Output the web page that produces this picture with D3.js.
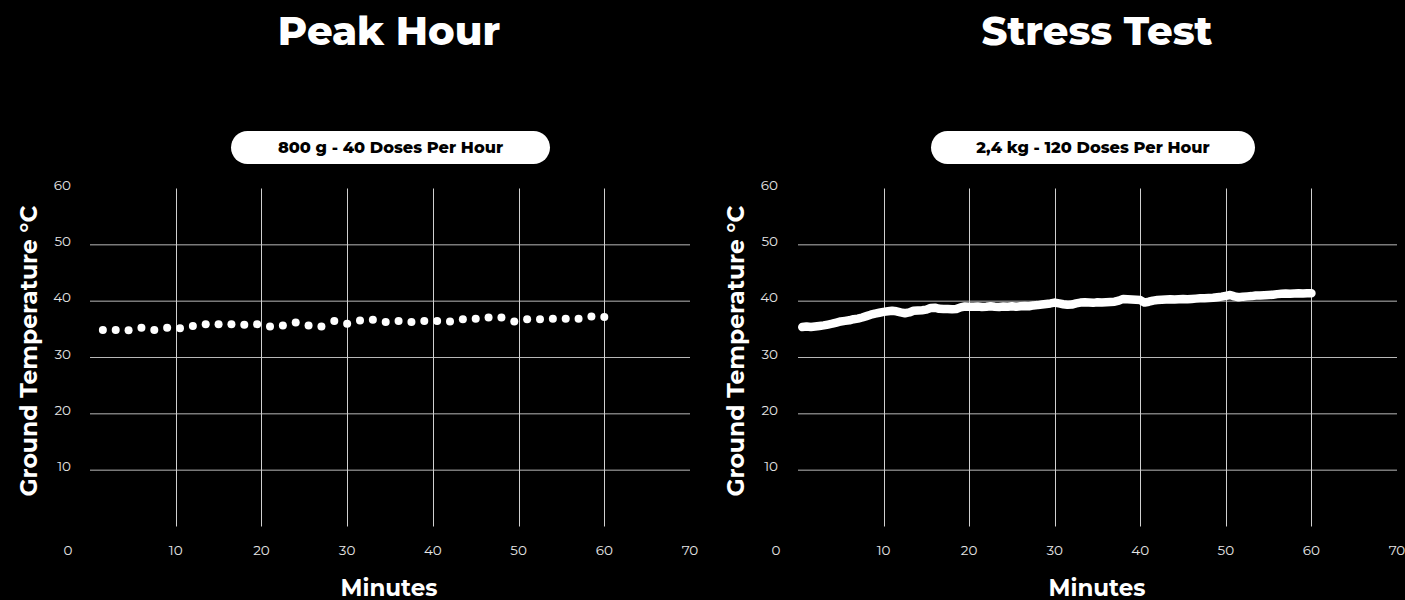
<!DOCTYPE html>
<html>
<head>
<meta charset="utf-8">
<script src="https://cdn.jsdelivr.net/npm/d3@7"></script>
<style>
  html, body { margin: 0; padding: 0; background: #000; }
  svg { display: block; }
</style>
</head>
<body>
<svg id="chart" width="1405" height="600"></svg>
<script>
// ---------- data ----------
const titles = ["Peak Hour", "Stress Test"];
const subtitles = ["800 g - 40 Doses Per Hour", "2,4 kg - 120 Doses Per Hour"];
const xTicks = [0, 10, 20, 30, 40, 50, 60, 70];
const yTicks = [10, 20, 30, 40, 50, 60];
const xLabel = "Minutes";
const yLabel = "Ground Temperature °C";

// Peak Hour: one dose every 1.5 minutes
const peakMinutes = [1.5,3,4.5,6,7.5,9,10.5,12,13.5,15,16.5,18,19.5,21,22.5,24,25.5,27,28.5,30,
  31.5,33,34.5,36,37.5,39,40.5,42,43.5,45,46.5,48,49.5,51,52.5,54,55.5,57,58.5,60];
const peakTemps = [34.9,34.9,34.85,35.3,34.9,35.3,35.2,35.6,35.9,35.9,35.9,35.8,35.9,35.5,35.7,36.2,35.7,35.5,36.5,36.0,
  36.55,36.7,36.3,36.5,36.3,36.5,36.5,36.4,36.8,36.9,37.1,37.1,36.4,36.8,36.8,36.9,36.9,36.9,37.3,37.2];

// Stress Test: one dose every 0.5 minutes
const stressMinutes = [0.5,1,1.5,2,2.5,3,3.5,4,4.5,5,5.5,6,6.5,7,7.5,8,8.5,9,9.5,10,
  10.5,11,11.5,12,12.5,13,13.5,14,14.5,15,15.5,16,16.5,17,17.5,18,18.5,19,19.5,20,
  20.5,21,21.5,22,22.5,23,23.5,24,24.5,25,25.5,26,26.5,27,27.5,28,28.5,29,29.5,30,
  30.5,31,31.5,32,32.5,33,33.5,34,34.5,35,35.5,36,36.5,37,37.5,38,38.5,39,39.5,40,
  40.5,41,41.5,42,42.5,43,43.5,44,44.5,45,45.5,46,46.5,47,47.5,48,48.5,49,49.5,50,
  50.5,51,51.5,52,52.5,53,53.5,54,54.5,55,55.5,56,56.5,57,57.5,58,58.5,59,59.5,60];
const stressTemps = [35.4,35.5,35.4,35.5,35.6,35.7,35.85,36.0,36.2,36.4,36.5,36.6,36.8,36.9,37.1,37.35,37.6,37.8,37.95,38.1,
  38.2,38.3,38.2,38.0,37.85,38.0,38.3,38.35,38.4,38.5,38.8,38.85,38.65,38.6,38.6,38.55,38.6,38.9,39.05,39.0,
  39.0,39.05,38.95,39.0,39.1,39.0,38.95,39.05,39.0,39.1,39.0,39.1,39.15,39.1,39.25,39.3,39.4,39.5,39.6,39.75,
  39.6,39.45,39.35,39.4,39.6,39.75,39.8,39.75,39.7,39.8,39.75,39.8,39.85,39.9,40.1,40.4,40.35,40.3,40.25,40.2,
  39.75,39.9,40.1,40.2,40.25,40.3,40.35,40.3,40.35,40.4,40.35,40.4,40.45,40.5,40.5,40.55,40.6,40.7,40.8,40.95,
  41.1,40.85,40.7,40.8,40.85,40.9,41.0,41.0,41.05,41.1,41.15,41.25,41.3,41.35,41.3,41.35,41.4,41.35,41.4,41.4];

// ---------- layout ----------
const svg = d3.select("#chart");
const panels = [
  { title: titles[0], sub: subtitles[0], xs: peakMinutes, ys: peakTemps, type: "dots",
    x0: 90, x1: 690, cx: 389, pillL: 231, pillR: 550, yLabX: 37, yTickX: 71 },
  { title: titles[1], sub: subtitles[1], xs: stressMinutes, ys: stressTemps, type: "line",
    x0: 798, x1: 1397, cx: 1097, pillL: 931, pillR: 1255, yLabX: 744, yTickX: 778 }
];
const yTop = 188.5, yBot = 526.5;
const fontMain = "Montserrat, Inter, 'Open Sans', sans-serif";

panels.forEach(p => {
  const x = d3.scaleLinear().domain([0, 70]).range([p.x0, p.x1]);
  const y = d3.scaleLinear().domain([0, 60]).range([yBot, yTop]);
  const g = svg.append("g");

  // title
  g.append("text").attr("x", p.cx).attr("y", 45)
    .attr("text-anchor", "middle").attr("fill", "#fff")
    .style("font-family", fontMain).style("font-weight", 800).style("font-size", "40px")
    .text(p.title);

  // pill
  g.append("rect").attr("x", p.pillL).attr("y", 131)
    .attr("width", p.pillR - p.pillL).attr("height", 33)
    .attr("rx", 16.5).attr("fill", "#fff");
  g.append("text").attr("x", (p.pillL + p.pillR) / 2).attr("y", 153)
    .attr("text-anchor", "middle").attr("fill", "#000")
    .style("font-family", fontMain).style("font-weight", 800).style("font-size", "16.2px")
    .text(p.sub);

  // horizontal grid
  g.selectAll(".hg").data(yTicks.filter(t => t < 60)).enter().append("line")
    .attr("x1", x(0)).attr("x2", x(70))
    .attr("y1", d => y(d)).attr("y2", d => y(d))
    .attr("stroke", "#b8b8b8").attr("stroke-width", 1);
  // vertical grid
  g.selectAll(".vg").data(xTicks.filter(t => t > 0 && t < 70)).enter().append("line")
    .attr("x1", d => Math.round(x(d)) + 0.5).attr("x2", d => Math.round(x(d)) + 0.5)
    .attr("y1", y(60)).attr("y2", y(0))
    .attr("stroke", "#d0d0d0").attr("stroke-width", 1);

  // y tick labels
  g.selectAll(".yt").data(yTicks).enter().append("text")
    .attr("x", p.yTickX).attr("y", d => y(d) + 1)
    .attr("text-anchor", "end").attr("fill", "#e6e6e6")
    .style("font-family", fontMain).style("font-size", "13.5px")
    .text(d => d);
  // x tick labels
  g.selectAll(".xt").data(xTicks).enter().append("text")
    .attr("x", d => x(d) - (d === 0 ? 22 : 0)).attr("y", 555)
    .attr("text-anchor", "middle").attr("fill", "#e6e6e6")
    .style("font-family", fontMain).style("font-size", "13.5px")
    .text(d => d);

  // axis titles
  g.append("text").attr("x", p.cx).attr("y", 596)
    .attr("text-anchor", "middle").attr("fill", "#fff")
    .style("font-family", fontMain).style("font-weight", 700).style("font-size", "23px")
    .text(xLabel);
  g.append("text")
    .attr("transform", `translate(${p.yLabX},351) rotate(-90)`)
    .attr("text-anchor", "middle").attr("fill", "#fff")
    .style("font-family", fontMain).style("font-weight", 700).style("font-size", "23.5px")
    .text(yLabel);

  const pts = p.xs.map((m, i) => [m, p.ys[i]]);
  if (p.type === "dots") {
    g.selectAll(".dot").data(pts).enter().append("circle")
      .attr("cx", d => x(d[0])).attr("cy", d => y(d[1]))
      .attr("r", 4).attr("fill", "#fff");
  } else {
    g.append("path").datum(pts)
      .attr("d", d3.line().x(d => x(d[0])).y(d => y(d[1])))
      .attr("fill", "none").attr("stroke", "#fff")
      .attr("stroke-width", 8.5).attr("stroke-linecap", "round").attr("stroke-linejoin", "round");
  }
});
</script>
</body>
</html>
